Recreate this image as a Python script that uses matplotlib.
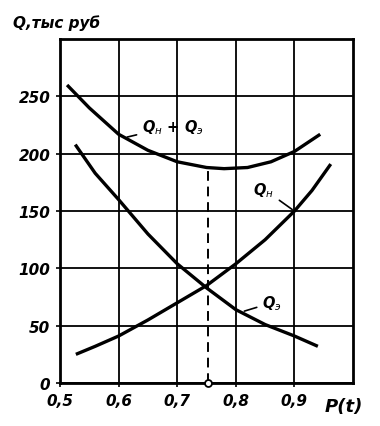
import matplotlib
matplotlib.use("Agg")
import matplotlib.pyplot as plt

# values
p_e = [0.526, 0.56, 0.6, 0.65, 0.7, 0.75, 0.8, 0.85, 0.9, 0.94]
q_e = [208, 183, 160, 130, 104, 83, 64, 51, 41, 32]

p_n = [0.527, 0.56, 0.6, 0.65, 0.7, 0.75, 0.8, 0.85, 0.9, 0.93, 0.962]
q_n = [25, 32, 41, 55, 70, 85, 104, 125, 150, 168, 191]

p_sum = [0.512, 0.55, 0.6, 0.65, 0.7, 0.75, 0.78, 0.82, 0.86, 0.9, 0.944]
q_sum = [260, 240, 217, 203, 193, 188, 187, 188, 193, 202, 217]

p_opt = 0.753
q_opt = 188

xticks = [0.5, 0.6, 0.7, 0.8, 0.9]
xlabels = ["0,5", "0,6", "0,7", "0,8", "0,9"]
yticks = [0, 50, 100, 150, 200, 250]

font = dict(family="DejaVu Sans", weight="bold", style="italic")

fig = plt.figure(figsize=(3.8, 4.27), dpi=100)
ax = fig.add_axes([0.158, 0.1007, 0.771, 0.8053])

for px, qy in [(p_e, q_e), (p_n, q_n), (p_sum, q_sum)]:
    ax.plot(px, qy, color="black", lw=2.4, solid_capstyle="butt",
            solid_joinstyle="round")
ax.plot([p_opt, p_opt], [0, q_opt], color="black", lw=1.4, ls=(0, (5, 3)))
ax.plot([p_opt], [0], marker="o", ms=5, mfc="white", mec="black", mew=1.3,
        clip_on=False, zorder=5)

ax.set_xlim(0.5, 1.0)
ax.set_ylim(0, 300)
ax.set_xticks(xticks)
ax.set_xticklabels(xlabels, fontsize=11, **font)
ax.set_yticks(yticks)
ax.set_yticklabels([str(v) for v in yticks], fontsize=11, **font)
ax.tick_params(length=3, width=1.2, pad=4)
ax.grid(True, color="black", lw=1.3)
for s in ax.spines.values():
    s.set_linewidth(2)

# curve labels with leader lines
leader = dict(arrowstyle="-", lw=1.2, color="black")
ax.annotate("Q$_{\\mathit{н}}$ + Q$_{\\mathit{э}}$", xy=(0.61, 214), xytext=(0.64, 220),
            fontsize=10.5, arrowprops=leader, **font)
ax.annotate("Q$_{\\mathit{н}}$", xy=(0.9, 150), xytext=(0.83, 165),
            fontsize=10.5, arrowprops=leader, **font)
ax.annotate("Q$_{\\mathit{э}}$", xy=(0.81, 62), xytext=(0.845, 66),
            fontsize=10.5, arrowprops=leader, **font)

fig.text(0.035, 0.935, "Q,тыс руб", fontsize=11, **font)
fig.text(0.855, 0.035, "P(t)", fontsize=13, **font)

fig.savefig("out.png", dpi=100)
